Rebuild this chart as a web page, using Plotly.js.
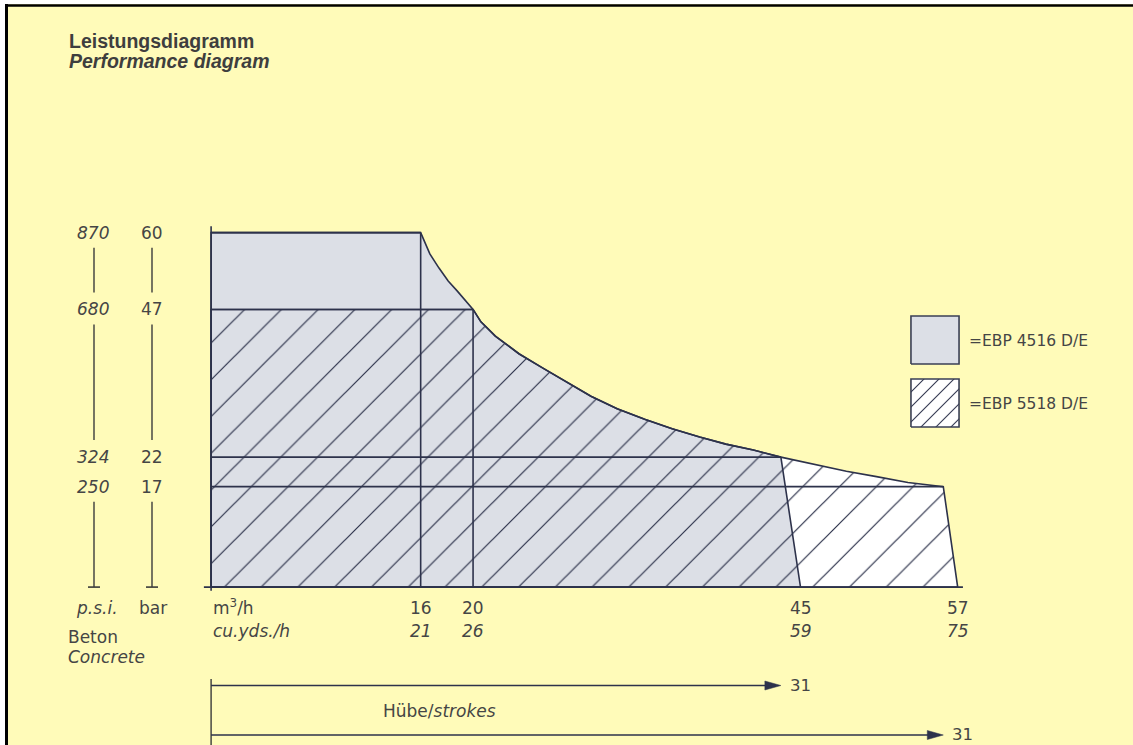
<!DOCTYPE html>
<html><head><meta charset="utf-8">
<script src="https://cdn.plot.ly/plotly-3.0.1.min.js"></script>
<style>html,body{margin:0;padding:0;background:#fff;}#chart{width:1133px;height:745px;}</style>
</head><body><div id="chart"></div>
<script>
// ---------------- data ----------------
const pressureBar = [60, 47, 22, 17];
const pressurePsi = [870, 680, 324, 250];
const flowM3h = [16, 20, 45, 57];
const flowCuYd = [21, 26, 59, 75];
// flow (m³/h) where each pressure level meets the power-limit curve
const cornerQ = [16, 20, 43.5, 55.9];
// power-limit curve (m³/h, bar)
const curveQ = [16, 16.7, 17.4, 18.1, 18.8, 19.5, 20, 20.6, 21.7, 22.6, 23.5, 25.3, 27.1, 29.0, 31.0, 33.1, 35.2, 37.3, 39.3, 41.4, 43.5, 46.1, 48.5, 50.8, 53.2, 55.9];
const curveP = [60, 56.4, 54.0, 51.8, 50.1, 48.4, 47, 44.9, 42.5, 41.0, 39.5, 37.1, 34.7, 32.3, 30.2, 28.4, 26.8, 25.4, 24.2, 23.2, 22, 20.7, 19.6, 18.7, 17.7, 17];
const models = ['EBP 4516 D/E', 'EBP 5518 D/E'];
const modelMaxP = [60, 47];
const modelCurveEndP = [22, 17];
const modelMaxQ = [45, 57];
const modelStrokeEndQ = [43.5, 55.9];
const strokes = [31, 31];

// ---------------- layout geometry ----------------
const W = 1133, H = 745;
const M = {l: 198, r: 136, t: 209, b: 152};
const PW = W - M.l - M.r, PH = H - M.t - M.b;
const XR = [-1, 60], YR = [-1, 64];
const kx = PW / (XR[1] - XR[0]), ky = PH / (YR[1] - YR[0]);
const px = x => (x - M.l) / PW;            // pixel -> paper x
const py = y => (H - M.b - y) / PH;        // pixel -> paper y
const xPix = v => M.l + (v - XR[0]) * kx;  // data -> pixel
const yPix = v => H - M.b - (v - YR[0]) * ky;

const INK = '#2d324b';
const GREY = '#dcdfe6';
const TXT = '#454545';
const BG = '#fffbb9';
const FONT = 'DejaVu Sans, sans-serif';
const TFONT = 'Liberation Sans, Arial, sans-serif';

function envelope(i) {
  const q = [0, 0], p = [0, modelMaxP[i]];
  curveQ.forEach((c, j) => {
    if (curveP[j] <= modelMaxP[i] && curveP[j] >= modelCurveEndP[i]) { q.push(c); p.push(curveP[j]); }
  });
  q.push(modelMaxQ[i], 0); p.push(0, 0);
  return {q, p};
}
const e4516 = envelope(0), e5518 = envelope(1);

// level lines
const lvX = [], lvY = [];
pressureBar.forEach((p, i) => {
  lvX.push(0, cornerQ[i], null); lvY.push(p, p, null);
  if (i < 2) { lvX.push(cornerQ[i], cornerQ[i], null); lvY.push(0, p, null); }
});

const traces = [
  {x: e5518.q, y: e5518.p, mode: 'lines', fill: 'toself', fillcolor: '#ffffff', line: {width: 0}, hoverinfo: 'skip'},
  {x: e4516.q, y: e4516.p, mode: 'lines', fill: 'toself', fillcolor: GREY, line: {width: 0}, hoverinfo: 'skip'},
  {x: e5518.q, y: e5518.p, mode: 'lines', fill: 'toself', fillcolor: 'rgba(0,0,0,0)', line: {width: 0},
   fillpattern: {shape: '/', size: 26, solidity: 0.047, fgcolor: INK, bgcolor: 'rgba(0,0,0,0)', fillmode: 'replace'}, hoverinfo: 'skip'},
  {x: e4516.q, y: e4516.p, mode: 'lines', line: {color: INK, width: 1.6}, hoverinfo: 'skip'},
  {x: e5518.q, y: e5518.p, mode: 'lines', line: {color: INK, width: 1.6}, hoverinfo: 'skip'},
  {x: lvX, y: lvY, mode: 'lines', line: {color: INK, width: 1.6}, connectgaps: false, hoverinfo: 'skip'},
  // legend swatches (unit squares in their own small axes)
  {x: [0, 1, 1, 0, 0], y: [0, 0, 1, 1, 0], xaxis: 'x2', yaxis: 'y2', mode: 'lines', fill: 'toself', fillcolor: GREY, line: {color: '#3a3f55', width: 1.6}, hoverinfo: 'skip'},
  {x: [0, 1, 1, 0, 0], y: [0, 0, 1, 1, 0], xaxis: 'x2', yaxis: 'y3', mode: 'lines', fill: 'toself', fillcolor: '#ffffff', line: {width: 0}, hoverinfo: 'skip'},
  {x: [0, 1, 1, 0, 0], y: [0, 0, 1, 1, 0], xaxis: 'x2', yaxis: 'y3', mode: 'lines', fill: 'toself', fillcolor: 'rgba(0,0,0,0)',
   fillpattern: {shape: '/', size: 10.6, solidity: 0.1, fgcolor: INK, bgcolor: 'rgba(0,0,0,0)', fillmode: 'replace'}, line: {color: '#3a3f55', width: 1.6}, hoverinfo: 'skip'}
];

const shapes = [];
const ann = [];
const txt = (text, x, y, opt) => Object.assign({text, x, y, xref: 'paper', yref: 'paper', showarrow: false,
  xanchor: 'left', yanchor: 'middle', font: {family: FONT, size: 17, color: TXT}}, opt || {});

// page frame
shapes.push({type: 'rect', xref: 'paper', yref: 'paper', x0: px(0), x1: px(5), y0: py(0), y1: py(H), fillcolor: '#ffffff', line: {width: 0}, layer: 'below'});
shapes.push({type: 'rect', xref: 'paper', yref: 'paper', x0: px(0), x1: px(W), y0: py(0), y1: py(4), fillcolor: '#ffffff', line: {width: 0}, layer: 'below'});
shapes.push({type: 'line', xref: 'paper', yref: 'paper', x0: px(6.5), x1: px(6.5), y0: py(4), y1: py(H), line: {color: '#000', width: 3}});
shapes.push({type: 'line', xref: 'paper', yref: 'paper', x0: px(5), x1: px(W), y0: py(5.5), y1: py(5.5), line: {color: '#000', width: 2.5}});

// axes
shapes.push({type: 'line', xref: 'x', yref: 'y', x0: 0, x1: 0, y0: -0.6, y1: 61.1, line: {color: INK, width: 1.6}});
shapes.push({type: 'line', xref: 'x', yref: 'y', x0: -0.55, x1: 57.4, y0: 0, y1: 0, line: {color: INK, width: 1.6}});

// title
ann.push(txt('<b>Leistungsdiagramm</b>', px(67), py(41), {font: {family: TFONT, size: 19.5, color: '#3e3e3e'}}));
ann.push(txt('<b><i>Performance diagram</i></b>', px(67), py(61), {font: {family: TFONT, size: 19.5, color: '#3e3e3e'}}));

// left pressure scales
const colPsi = 93, colBar = 152;
pressureBar.forEach((p, i) => {
  ann.push(txt('<i>' + pressurePsi[i] + '</i>', px(colPsi), py(yPix(p)), {xanchor: 'center'}));
  ann.push(txt(String(p), px(colBar), py(yPix(p)), {xanchor: 'center'}));
});
const rulerStops = pressureBar.concat([0]);
for (let i = 0; i < rulerStops.length - 1; i++) {
  const a = yPix(rulerStops[i]) + 15;
  const b = (i === rulerStops.length - 2) ? yPix(0) : yPix(rulerStops[i + 1]) - 17;
  if (b - a < 12) continue;
  [colPsi + 1, colBar].forEach(cx => {
    shapes.push({type: 'line', xref: 'paper', yref: 'paper', x0: px(cx), x1: px(cx), y0: py(a), y1: py(b), line: {color: '#3b3b3b', width: 1.4}});
  });
}
[colPsi + 1, colBar].forEach(cx => {
  shapes.push({type: 'line', xref: 'paper', yref: 'paper', x0: px(cx - 6), x1: px(cx + 6), y0: py(yPix(0)), y1: py(yPix(0)), line: {color: '#3b3b3b', width: 1.6}});
});
ann.push(txt('<i>p.s.i.</i>', px(97), py(608), {xanchor: 'center'}));
ann.push(txt('bar', px(153), py(608), {xanchor: 'center'}));
ann.push(txt('Beton', px(66), py(636.5)));
ann.push(txt('<i>Concrete</i>', px(66), py(656.5)));

// flow labels
ann.push(txt('m<sup>3</sup>/h', 0, py(607), {xref: 'x'}));
ann.push(txt('<i>cu.yds./h</i>', 0, py(631), {xref: 'x'}));
flowM3h.forEach((q, i) => {
  ann.push(txt(String(q), q, py(608), {xref: 'x', xanchor: 'center'}));
  ann.push(txt('<i>' + flowCuYd[i] + '</i>', q, py(631), {xref: 'x', xanchor: 'center'}));
});

// legend
const legX0 = 911, legX1 = 959;
const legY = [[316, 364], [379, 427]];
models.forEach((m, i) => {
  ann.push(txt('=' + m, px(967), py((legY[i][0] + legY[i][1]) / 2 + 1), {font: {family: FONT, size: 15.5, color: TXT}}));
});

// stroke arrows
const arrowY = [685.5, 735];
shapes.push({type: 'line', xref: 'paper', yref: 'paper', x0: px(xPix(0)), x1: px(xPix(0)), y0: py(679), y1: py(H + 2), line: {color: '#3b3b3b', width: 1.4}});
strokes.forEach((s, i) => {
  const tip = xPix(modelStrokeEndQ[i]);
  const y = arrowY[i];
  shapes.push({type: 'line', xref: 'paper', yref: 'paper', x0: px(xPix(0)), x1: px(tip - 10), y0: py(y), y1: py(y), line: {color: INK, width: 1.6}});
  shapes.push({type: 'path', xref: 'paper', yref: 'paper',
    path: `M${px(tip)},${py(y)} L${px(tip - 16)},${py(y - 4.5)} L${px(tip - 16)},${py(y + 4.5)} Z`,
    fillcolor: INK, line: {color: INK, width: 0.5}});
  ann.push(txt(String(s), px(tip + 7), py(y - 0.5), {font: {family: FONT, size: 16.5, color: TXT}}));
});
ann.push(txt('Hübe/<i>strokes</i>', px(381), py(711)));

const hidden = {showgrid: false, zeroline: false, showticklabels: false, ticks: '', showline: false, fixedrange: true};
const layout = {
  width: W, height: H, autosize: false, margin: M,
  paper_bgcolor: BG, plot_bgcolor: 'rgba(0,0,0,0)', showlegend: false, hovermode: false,
  xaxis: Object.assign({range: XR, domain: [0, 1]}, hidden),
  yaxis: Object.assign({range: YR, domain: [0, 1]}, hidden),
  xaxis2: Object.assign({range: [-0.02, 1.02], domain: [px(legX0 - 1), px(legX1 + 1)], anchor: 'y2'}, hidden),
  yaxis2: Object.assign({range: [-0.02, 1.02], domain: [py(legY[0][1] + 1), py(legY[0][0] - 1)], anchor: 'x2'}, hidden),
  yaxis3: Object.assign({range: [-0.02, 1.02], domain: [py(legY[1][1] + 1), py(legY[1][0] - 1)], anchor: 'x2'}, hidden),
  shapes, annotations: ann
};
Plotly.newPlot('chart', traces, layout, {staticPlot: true, displayModeBar: false});
</script></body></html>
